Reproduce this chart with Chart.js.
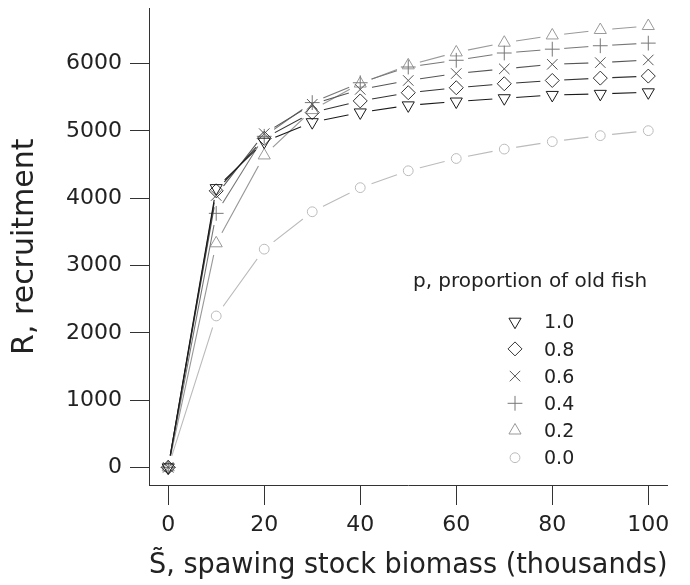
<!DOCTYPE html>
<html>
<head>
<meta charset="utf-8">
<script src="https://cdn.jsdelivr.net/npm/chart.js@4/dist/chart.umd.min.js"></script>
<style>
html,body{margin:0;padding:0;background:#fff;}
#wrap{width:690px;height:585px;position:relative;}
</style>
</head>
<body>
<div id="wrap"><canvas id="c" width="690" height="585"></canvas></div>
<script>
// ---- data ----
const biomass = [0, 10, 20, 30, 40, 50, 60, 70, 80, 90, 100];
const recP10 = [0, 4150, 4840, 5130, 5275, 5380, 5437, 5486, 5535, 5551, 5574];
const recP08 = [0, 4110, 4890, 5273, 5446, 5568, 5642, 5701, 5750, 5785, 5815];
const recP06 = [0, 4040, 4960, 5396, 5617, 5750, 5853, 5922, 5990, 6015, 6055];
const recP04 = [0, 3775, 4920, 5421, 5716, 5950, 6050, 6158, 6215, 6266, 6305];
const recP02 = [0, 3330, 4636, 5310, 5704, 5975, 6167, 6311, 6419, 6500, 6559];
const recP00 = [0, 2250, 3243, 3799, 4157, 4408, 4590, 4730, 4841, 4930, 5004];
const seriesLabels = ['1.0', '0.8', '0.6', '0.4', '0.2', '0.0'];
const seriesValues = [recP10, recP08, recP06, recP04, recP02, recP00];
const xTickValues = [0, 20, 40, 60, 80, 100];
const yTickValues = [0, 1000, 2000, 3000, 4000, 5000, 6000];
const xTitle = 'S\u0303, spawing stock biomass (thousands)';
const yTitle = 'R, recruitment';
const legendTitle = 'p, proportion of old fish';

// ---- styles ----
const FONT = '"DejaVu Sans", sans-serif';
const TEXT = '#222222';
const AXIS = '#333333';
const GAP = 12;
const styles = [
  {color: '#1a1a1a', pointStyle: 'triangle', rotation: 180, radius: 7},
  {color: '#333333', pointStyle: 'rectRot', rotation: 0, radius: 7},
  {color: '#555555', pointStyle: 'crossRot', rotation: 0, radius: 7.4},
  {color: '#777777', pointStyle: 'cross', rotation: 0, radius: 7.4},
  {color: '#999999', pointStyle: 'triangle', rotation: 0, radius: 7},
  {color: '#bbbbbb', pointStyle: 'circle', rotation: 0, radius: 4.9}
];

const datasets = [];
seriesValues.forEach((vals, i) => {
  const st = styles[i];
  const pts = biomass.map((x, j) => ({x: x, y: vals[j]}));
  datasets.push({
    label: seriesLabels[i] + ' line',
    data: pts,
    gapLine: true,
    showLine: true,
    borderColor: st.color,
    borderWidth: 1.1,
    pointRadius: 0,
    fill: false,
    tension: 0
  });
  datasets.push({
    label: seriesLabels[i],
    data: pts,
    showLine: false,
    pointStyle: st.pointStyle,
    rotation: st.rotation,
    pointRadius: st.radius,
    pointBorderColor: st.color,
    pointBackgroundColor: 'rgba(0,0,0,0)',
    pointBorderWidth: 1
  });
});

// gaps around points on the connecting lines (R type = "b")
const gapPlugin = {
  id: 'gapPlugin',
  beforeDatasetDraw(chart, args) {
    const ds = chart.data.datasets[args.index];
    if (!ds.gapLine) return;
    const ctx = chart.ctx;
    ctx.save();
    ctx.beginPath();
    ctx.rect(0, 0, chart.width, chart.height);
    args.meta.data.forEach(p => {
      ctx.moveTo(p.x + GAP, p.y);
      ctx.arc(p.x, p.y, GAP, 0, Math.PI * 2);
    });
    ctx.clip('evenodd');
  },
  afterDatasetDraw(chart, args) {
    const ds = chart.data.datasets[args.index];
    if (ds.gapLine) chart.ctx.restore();
  }
};

// R-style legend inside the plot
const legendPlugin = {
  id: 'rLegend',
  afterDraw(chart) {
    const ctx = chart.ctx;
    ctx.save();
    ctx.fillStyle = TEXT;
    ctx.font = '20px ' + FONT;
    ctx.textAlign = 'center';
    ctx.textBaseline = 'alphabetic';
    ctx.fillText(legendTitle, 530, 286.5);
    ctx.font = '19px ' + FONT;
    ctx.textAlign = 'left';
    seriesLabels.forEach((lab, i) => {
      const st = styles[i];
      const y = 321.7 + i * 27.2;
      ctx.save();
      ctx.strokeStyle = st.color;
      ctx.fillStyle = 'rgba(0,0,0,0)';
      ctx.lineWidth = 1;
      Chart.helpers.drawPoint(ctx, {pointStyle: st.pointStyle, rotation: st.rotation, radius: st.radius, borderWidth: 1}, 515, y);
      ctx.restore();
      ctx.fillStyle = TEXT;
      ctx.fillText(lab, 544, y + 6.6);
    });
    ctx.restore();
  }
};

new Chart(document.getElementById('c'), {
  type: 'scatter',
  data: {datasets: datasets},
  options: {
    responsive: false,
    animation: false,
    devicePixelRatio: 1,
    layout: {padding: {left: 0, right: 22.5, top: 3, bottom: 0}},
    plugins: {legend: {display: false}, tooltip: {enabled: false}},
    scales: {
      x: {
        type: 'linear',
        min: -4, max: 104,
        afterBuildTicks: s => { s.ticks = xTickValues.map(v => ({value: v})); },
        afterFit: s => { s.height = 100; s.paddingLeft = 0; s.paddingRight = 0; },
        grid: {drawOnChartArea: false, drawTicks: true, tickLength: 20, color: AXIS, lineWidth: 1},
        border: {display: true, color: AXIS, width: 1},
        ticks: {font: {family: FONT, size: 22}, color: TEXT, padding: 7.5, maxRotation: 0, autoSkip: false,
                callback: v => String(v)},
        title: {display: true, text: xTitle, font: {family: FONT, size: 27.5}, color: TEXT,
                padding: {top: 0, bottom: 3}}
      },
      y: {
        type: 'linear',
        min: -262, max: 6821,
        afterBuildTicks: s => { s.ticks = yTickValues.map(v => ({value: v})); },
        afterFit: s => { s.width = 149; s.paddingTop = 0; s.paddingBottom = 0; },
        grid: {drawOnChartArea: false, drawTicks: true, tickLength: 19, color: AXIS, lineWidth: 1},
        border: {display: true, color: AXIS, width: 1},
        ticks: {font: {family: FONT, size: 22}, color: TEXT, padding: 8, autoSkip: false,
                callback: v => String(v)},
        title: {display: true, text: yTitle, font: {family: FONT, size: 30}, color: TEXT,
                padding: {top: 7.6, bottom: 0}}
      }
    }
  },
  plugins: [gapPlugin, legendPlugin]
});
</script>
</body>
</html>
